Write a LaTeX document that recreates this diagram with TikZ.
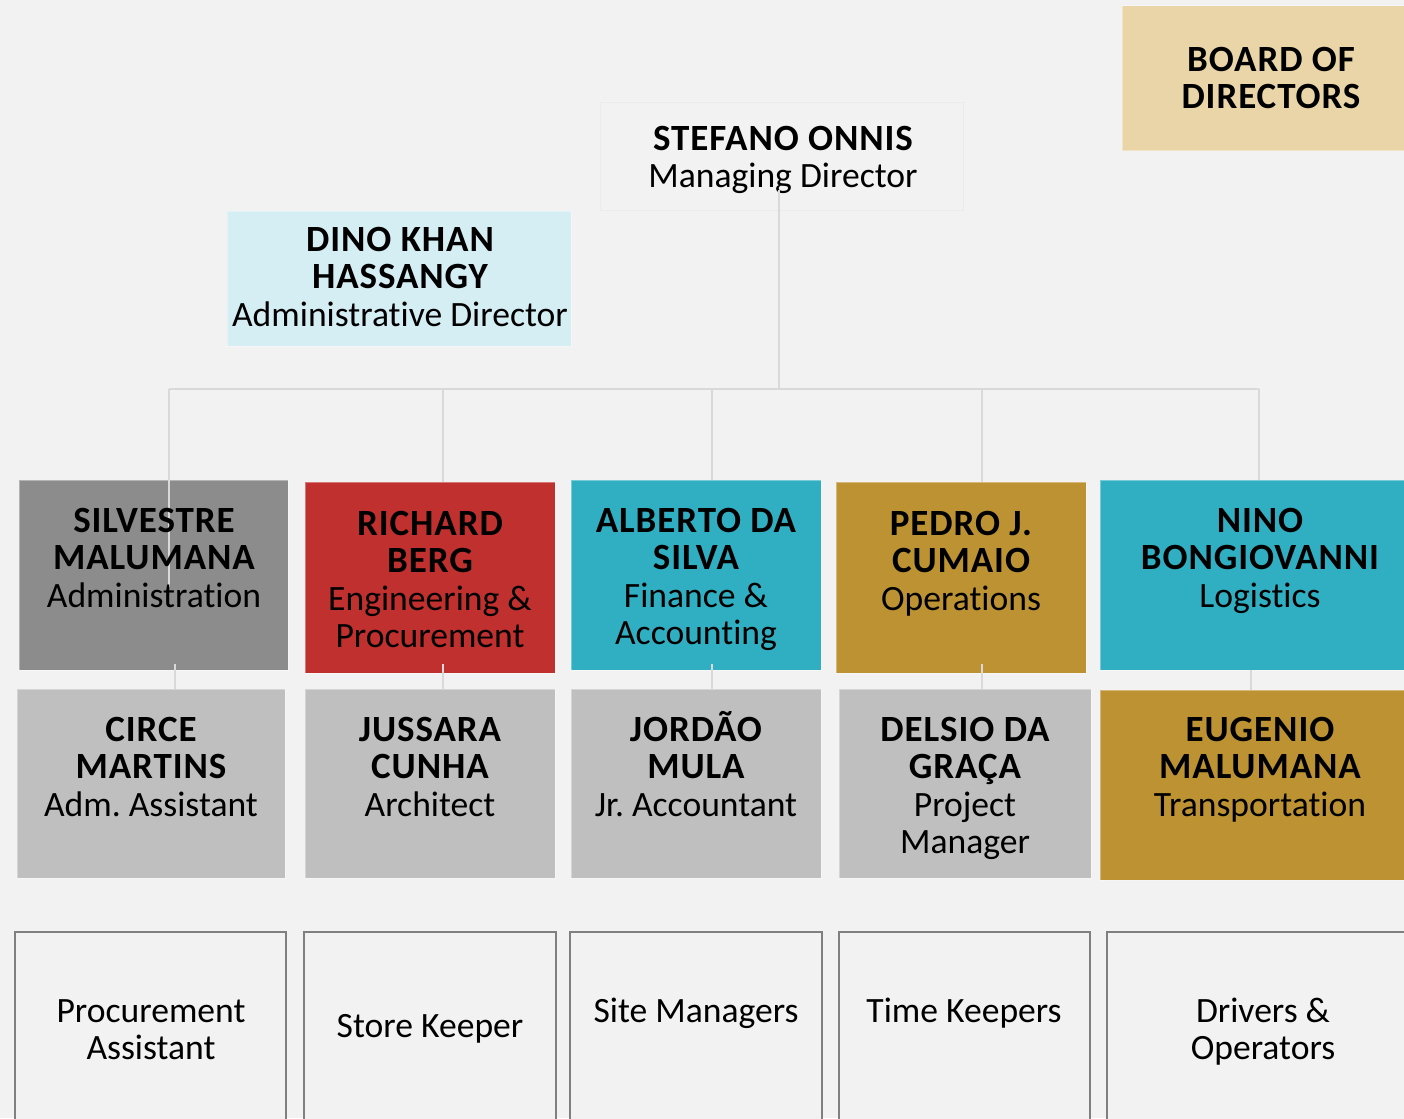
\documentclass[tikz,border=0pt]{standalone}
\usepackage{fontspec}
\setmainfont{Carlito}[Ligatures=NoCommon,BoldFeatures={LetterSpace=2.5}]
\newcommand{\fl}{\rule{0pt}{30pt}}
\newcommand{\nm}[1]{{\fontsize{37}{37.5}\selectfont\bfseries #1}}
\definecolor{cbg}{HTML}{F2F2F2}
\definecolor{cboard}{HTML}{E9D5A8}
\definecolor{cdino}{HTML}{D5EEF3}
\definecolor{cgray}{HTML}{8C8C8C}
\definecolor{cred}{HTML}{C0302F}
\definecolor{cteal}{HTML}{31AFC2}
\definecolor{cgold}{HTML}{BC9232}
\definecolor{clgray}{HTML}{BFBFBF}
\definecolor{cline}{HTML}{D9D9D9}
\definecolor{cframe}{HTML}{808080}
\frenchspacing
\begin{document}
\begin{tikzpicture}[x=1pt,y=-1pt,
  box/.style={inner sep=0pt,outer sep=0pt,draw=white,draw opacity=0.35,line width=1pt},
  lowbox/.style={inner sep=0pt,outer sep=0pt,draw=cframe,fill=cbg,line width=1.5pt},
  txt/.style={anchor=north,align=center,inner sep=0pt,font=\fontsize{35.6}{37.5}\selectfont},
  conn/.style={draw=cline,line width=1.4pt}]
\useasboundingbox (0,0) rectangle (1404,1118);
\clip (0,0) rectangle (1404,1118);
\fill[cbg] (0,0) rectangle (1404,1118);

% top level
\node[box,fill=cboard,minimum width=288pt,minimum height=145pt] (board) at (1266,78.5) {};
\node[txt] (boardT) at (1271,41) {\fl\nm{BOARD OF}\\\nm{DIRECTORS}};
\node[inner sep=0pt,outer sep=0pt,draw=black!8,fill=cbg,line width=1pt,minimum width=363pt,minimum height=107pt] (md) at (781.5,156.5) {};
\node[txt] (mdT) at (783,120) {\fl\nm{STEFANO ONNIS}\\Managing Director};
\node[box,fill=cdino,minimum width=344pt,minimum height=135pt] (dino) at (399,278.5) {};
\node[txt] (dinoT) at (400,221) {\fl\nm{DINO KHAN}\\\nm{HASSANGY}\\Administrative Director};

% row 1
\node[box,fill=cgray,minimum width=269pt,minimum height=190pt] (sil) at (153.5,575) {};
\node[box,fill=cred,minimum width=250pt,minimum height=191pt] (ric) at (430,577.5) {};
\node[box,fill=cteal,minimum width=250pt,minimum height=190pt] (alb) at (696,575) {};
\node[box,fill=cgold,minimum width=250pt,minimum height=191pt] (ped) at (961,577.5) {};
\node[box,fill=cteal,minimum width=310pt,minimum height=190pt] (nino) at (1255,575) {};

% row 2
\node[box,fill=clgray,minimum width=268pt,minimum height=189pt] (cir) at (151,783.5) {};
\node[box,fill=clgray,minimum width=250pt,minimum height=189pt] (jus) at (430,783.5) {};
\node[box,fill=clgray,minimum width=250pt,minimum height=189pt] (jor) at (696,783.5) {};
\node[box,fill=clgray,minimum width=252pt,minimum height=189pt] (del) at (965,783.5) {};
\node[box,fill=cgold,minimum width=310pt,minimum height=190pt] (eug) at (1255,785) {};

% row 3
\node[lowbox,minimum width=271pt,minimum height=198pt] (pa) at (150.5,1031) {};
\node[lowbox,minimum width=252pt,minimum height=198pt] (sk) at (430,1031) {};
\node[lowbox,minimum width=252pt,minimum height=198pt] (sm) at (696,1031) {};
\node[lowbox,minimum width=251pt,minimum height=198pt] (tk) at (964.5,1031) {};
\node[lowbox,minimum width=313pt,minimum height=198pt] (dr) at (1263.5,1031) {};

% connectors
\coordinate (stemTop) at (779,190);
\coordinate (stemBot) at (779,389);
\coordinate (busL) at (169,389);
\coordinate (busR) at (1259,389);
\coordinate (b2) at (443,389);
\coordinate (b3) at (712,389);
\coordinate (b4) at (982,389);
\coordinate (silIn) at (169,587);
\draw[conn] (stemTop) -- (stemBot);
\draw[conn] (busL) -- (busR);
\draw[conn] (busL) -- (silIn);
\draw[conn] (b2) -- (b2 |- ric.north);
\draw[conn] (b3) -- (b3 |- alb.north);
\draw[conn] (b4) -- (b4 |- ped.north);
\draw[conn] (busR) -- (busR |- nino.north);
\coordinate (c1) at (175,664);
\coordinate (c2) at (443,664);
\coordinate (c3) at (712,664);
\coordinate (c4) at (982,664);
\coordinate (c5) at (1251,670);
\draw[conn] (c1) -- (c1 |- cir.north);
\draw[conn] (c2) -- (c2 |- jus.north);
\draw[conn] (c3) -- (c3 |- jor.north);
\draw[conn] (c4) -- (c4 |- del.north);
\draw[conn] (c5) -- (c5 |- eug.north);

% texts
\node[txt] (silT) at (154,502) {\fl\nm{SILVESTRE}\\\nm{MALUMANA}\\Administration};
\node[txt] (ricT) at (430,505) {\fl\nm{RICHARD}\\\nm{BERG}\\Engineering \&\\Procurement};
\node[txt] (albT) at (696,502) {\fl\nm{ALBERTO DA}\\\nm{SILVA}\\Finance \&\\Accounting};
\node[txt] (pedT) at (961,505) {\fl\nm{PEDRO J.}\\\nm{CUMAIO}\\Operations};
\node[txt] (ninoT) at (1260,502) {\fl\nm{NINO}\\\nm{BONGIOVANNI}\\Logistics};
\node[txt] (cirT) at (151,711) {\fl\nm{CIRCE}\\\nm{MARTINS}\\Adm. Assistant};
\node[txt] (jusT) at (430,711) {\fl\nm{JUSSARA}\\\nm{CUNHA}\\Architect};
\node[txt] (jorT) at (696,711) {\fl\nm{JORDÃO}\\\nm{MULA}\\Jr. Accountant};
\node[txt] (delT) at (965,711) {\fl\nm{DELSIO DA}\\\nm{GRAÇA}\\Project\\Manager};
\node[txt] (eugT) at (1260,711) {\fl\nm{EUGENIO}\\\nm{MALUMANA}\\Transportation};
\node[txt] (paT) at (151,992) {\fl Procurement\\Assistant};
\node[txt] (skT) at (430,1007) {\fl Store Keeper};
\node[txt] (smT) at (696,992) {\fl Site Managers};
\node[txt] (tkT) at (964,992) {\fl Time Keepers};
\node[txt] (drT) at (1263,992) {\fl Drivers \&\\Operators};
\end{tikzpicture}
\end{document}
